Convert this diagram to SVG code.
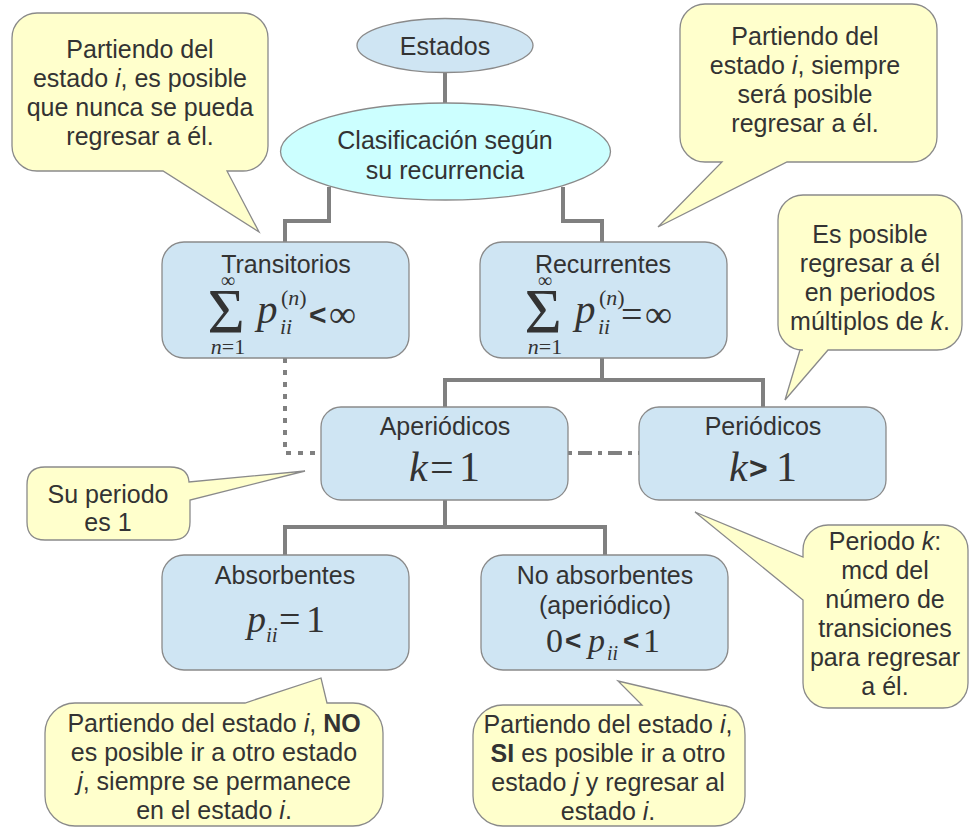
<svg xmlns="http://www.w3.org/2000/svg" width="972" height="827" viewBox="0 0 972 827">
<style>
.box{fill:#cfe5f3;stroke:#8a8a8a;stroke-width:1.3}
.e1{fill:#cfe5f3;stroke:#8a8a8a;stroke-width:1.3}
.e2{fill:#ccffff;stroke:#8a8a8a;stroke-width:1.3}
.call{fill:#ffffcc;stroke:#8a8a8a;stroke-width:1.3}
.t{font-family:"Liberation Sans",Arial,sans-serif;font-size:25px;fill:#333333;text-anchor:middle}
.m{font-family:"Liberation Serif","Times New Roman",serif;fill:#333333}
.ms{font-family:"Liberation Sans",Arial,sans-serif;fill:#333333;font-weight:bold}
.i{font-style:italic}
.b{font-weight:bold}
.conn{fill:none;stroke:#808080;stroke-width:4}
</style>
<rect width="972" height="827" fill="#ffffff"/>

<g id="connectors">
<path class="conn" d="M445,73 V103"/>
<path class="conn" d="M329,187 V221 H285 V242"/>
<path class="conn" d="M563,187 V221 H602 V242"/>
<path class="conn" d="M602,358 V380 H445 V407"/>
<path class="conn" d="M602,380 H763 V407"/>
<path class="conn" d="M445,500 V527 H285 V555"/>
<path class="conn" d="M445,527 H605 V555"/>
<path class="conn" d="M285,358 V453 H321" stroke-dasharray="5 7"/>
<path class="conn" d="M568,453 H639" stroke-dasharray="4 6 14 6"/>
</g>

<g id="estados">
<ellipse class="e1" cx="445" cy="45.5" rx="88" ry="27"/>
<text class="t" x="445" y="55">Estados</text>
</g>

<g id="clasificacion">
<ellipse class="e2" cx="445.5" cy="151.5" rx="165" ry="48.5"/>
<text class="t" x="445" y="149">Clasificación según</text>
<text class="t" x="445" y="179">su recurrencia</text>
</g>

<g id="transitorios">
<rect class="box" x="162" y="242" width="247" height="116" rx="22"/>
<text class="t" x="286" y="273">Transitorios</text>
<text class="m" x="226" y="333" font-size="64" text-anchor="middle">Σ</text>
<text class="m" x="228" y="287" font-size="20" text-anchor="middle">∞</text>
<text class="m" x="228" y="354" font-size="22" text-anchor="middle"><tspan class="i">n</tspan>=1</text>
<text class="m i" x="257" y="323" font-size="41">p</text>
<text class="m" x="281" y="305" font-size="22">(<tspan class="i">n</tspan>)</text>
<text class="m i" x="280" y="334" font-size="22">ii</text>
<text class="ms" x="309" y="325" font-size="30">&lt;</text>
<text class="m" x="329" y="327" font-size="38">∞</text>
</g>

<g id="recurrentes">
<rect class="box" x="480" y="242" width="247" height="116" rx="22"/>
<text class="t" x="603" y="273">Recurrentes</text>
<text class="m" x="543" y="333" font-size="64" text-anchor="middle">Σ</text>
<text class="m" x="545" y="287" font-size="20" text-anchor="middle">∞</text>
<text class="m" x="545" y="354" font-size="22" text-anchor="middle"><tspan class="i">n</tspan>=1</text>
<text class="m i" x="575" y="323" font-size="41">p</text>
<text class="m" x="599" y="305" font-size="22">(<tspan class="i">n</tspan>)</text>
<text class="m i" x="598" y="334" font-size="22">ii</text>
<text class="m" x="621" y="327" font-size="38">=</text>
<text class="m" x="645" y="327" font-size="38">∞</text>
</g>

<g id="aperiodicos">
<rect class="box" x="321" y="407" width="247" height="93" rx="20"/>
<text class="t" x="445" y="435">Aperiódicos</text>
<text class="m i" x="409" y="481" font-size="42">k</text>
<text class="m" x="430" y="481" font-size="42">=</text>
<text class="m" x="459" y="481" font-size="42">1</text>
</g>

<g id="periodicos">
<rect class="box" x="639" y="407" width="247" height="93" rx="20"/>
<text class="t" x="763" y="435">Periódicos</text>
<text class="m i" x="729" y="481" font-size="42">k</text>
<text class="ms" x="749" y="479" font-size="32">&gt;</text>
<text class="m" x="776" y="481" font-size="42">1</text>
</g>

<g id="absorbentes">
<rect class="box" x="162" y="555" width="247" height="115" rx="22"/>
<text class="t" x="285" y="584">Absorbentes</text>
<text class="m i" x="247" y="632" font-size="38">p</text>
<text class="m i" x="266" y="642" font-size="21">ii</text>
<text class="m" x="279" y="632" font-size="38">=</text>
<text class="m" x="306" y="632" font-size="38">1</text>
</g>

<g id="no-absorbentes">
<rect class="box" x="481" y="555" width="247" height="115" rx="22"/>
<text class="t" x="605" y="584">No absorbentes</text>
<text class="t" x="605" y="614">(aperiódico)</text>
<text class="m" x="546" y="652" font-size="34">0</text>
<text class="ms" x="565" y="650" font-size="28">&lt;</text>
<text class="m i" x="588" y="652" font-size="34">p</text>
<text class="m i" x="607" y="660" font-size="20">ii</text>
<text class="ms" x="623" y="650" font-size="28">&lt;</text>
<text class="m" x="643" y="652" font-size="34">1</text>
</g>

<g id="callout-transitorios">
<path class="call" d="M37,13 H243 A25,25 0 0 1 268,38 V146 A25,25 0 0 1 243,171 H227 L259,232 L163,171 H37 A25,25 0 0 1 12,146 V38 A25,25 0 0 1 37,13 Z"/>
<text class="t" x="140" y="58">Partiendo del</text>
<text class="t" x="140" y="87">estado <tspan class="i">i</tspan>, es posible</text>
<text class="t" x="140" y="116">que nunca se pueda</text>
<text class="t" x="140" y="145">regresar a él.</text>
</g>

<g id="callout-recurrentes">
<path class="call" d="M705,4 H912 A25,25 0 0 1 937,29 V137 A25,25 0 0 1 912,162 H787 L658,227 L722,162 H705 A25,25 0 0 1 680,137 V29 A25,25 0 0 1 705,4 Z"/>
<text class="t" x="805" y="45">Partiendo del</text>
<text class="t" x="805" y="74">estado <tspan class="i">i</tspan>, siempre</text>
<text class="t" x="805" y="103">será posible</text>
<text class="t" x="805" y="132">regresar a él.</text>
</g>

<g id="callout-periodicos">
<path class="call" d="M803,195 H937 A25,25 0 0 1 962,220 V325 A25,25 0 0 1 937,350 H828 L785,400 L800,350 H803 A25,25 0 0 1 778,325 V220 A25,25 0 0 1 803,195 Z"/>
<text class="t" x="870" y="243">Es posible</text>
<text class="t" x="870" y="272">regresar a él</text>
<text class="t" x="870" y="301">en periodos</text>
<text class="t" x="870" y="330">múltiplos de <tspan class="i">k</tspan>.</text>
</g>

<g id="callout-aperiodicos">
<path class="call" d="M45,467 H170 Q188,467 189,482 L305,471 L190,500 V522 Q190,540 172,540 H45 Q27,540 27,522 V485 Q27,467 45,467 Z"/>
<text class="t" x="108" y="503">Su periodo</text>
<text class="t" x="108" y="531">es 1</text>
</g>

<g id="callout-periodo-k">
<path class="call" d="M828,525 H943 A25,25 0 0 1 968,550 V683 A25,25 0 0 1 943,708 H828 A25,25 0 0 1 803,683 V600 L695,512 L803,557 V550 A25,25 0 0 1 828,525 Z"/>
<text class="t" x="885" y="550">Periodo <tspan class="i">k</tspan>:</text>
<text class="t" x="885" y="579">mcd del</text>
<text class="t" x="885" y="608">número de</text>
<text class="t" x="885" y="637">transiciones</text>
<text class="t" x="885" y="666">para regresar</text>
<text class="t" x="885" y="695">a él.</text>
</g>

<g id="callout-absorbentes">
<path class="call" d="M75,703 H245 L321,678 L327,703 H353 A30,30 0 0 1 383,733 V796 A30,30 0 0 1 353,826 H75 A30,30 0 0 1 45,796 V733 A30,30 0 0 1 75,703 Z"/>
<text class="t" x="214" y="732">Partiendo del estado <tspan class="i">i</tspan>, <tspan class="b">NO</tspan></text>
<text class="t" x="214" y="761">es posible ir a otro estado</text>
<text class="t" x="214" y="790"><tspan class="i">j</tspan>, siempre se permanece</text>
<text class="t" x="214" y="819">en el estado <tspan class="i">i</tspan>.</text>
</g>

<g id="callout-no-absorbentes">
<path class="call" d="M503,705 H642 L618,681 L720,705 Q745,707 745,735 V796 A30,30 0 0 1 715,826 H503 A30,30 0 0 1 473,796 V735 A30,30 0 0 1 503,705 Z"/>
<text class="t" x="608" y="733">Partiendo del estado <tspan class="i">i</tspan>,</text>
<text class="t" x="608" y="762"><tspan class="b">SI</tspan> es posible ir a otro</text>
<text class="t" x="608" y="791">estado <tspan class="i">j</tspan> y regresar al</text>
<text class="t" x="608" y="820">estado <tspan class="i">i</tspan>.</text>
</g>
</svg>
